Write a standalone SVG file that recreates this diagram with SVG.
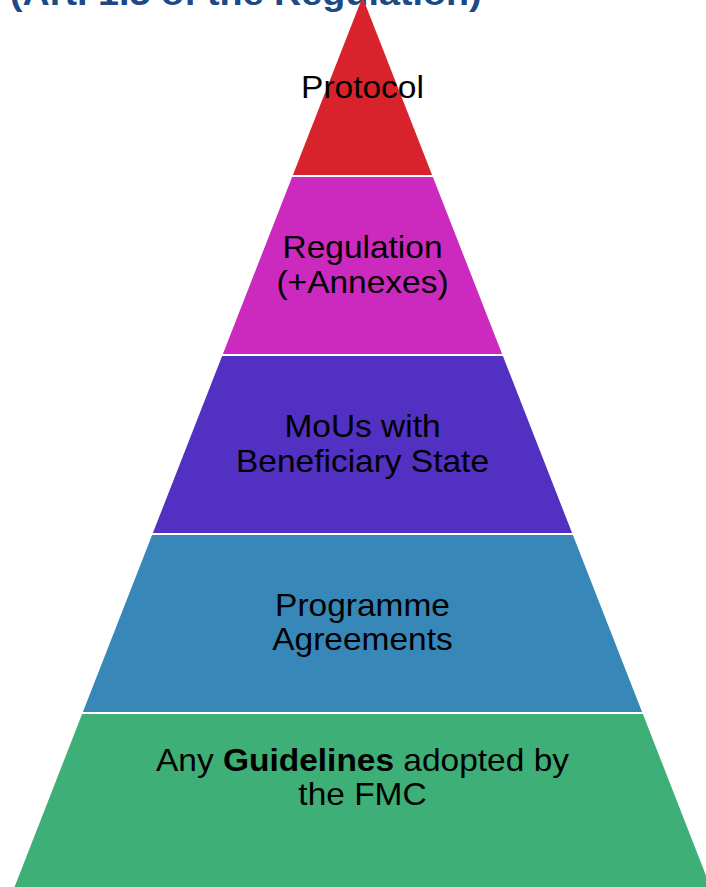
<svg xmlns="http://www.w3.org/2000/svg" width="706" height="887" viewBox="0 0 706 887">
<style>
.lbl{font-family:"Liberation Sans",Arial,sans-serif;font-size:31px;fill:#000;text-anchor:middle}
.title{font-family:"Liberation Sans",Arial,sans-serif;font-size:34px;font-weight:bold;fill:#1B4A87}
</style>
<rect width="706" height="887" fill="#fff"/>
<text class="title" transform="translate(10,5) scale(1.11,1)">(Art. 1.5 of the Regulation)</text>
<g id="protocol">
<polygon points="362.5,-3 432.1,175 292.9,175" fill="#D8232C"/>
<text class="lbl" transform="translate(362.5,98) scale(1.08,1)">Protocol</text>
</g>
<g id="regulation">
<polygon points="292.1,177 432.9,177 502.1,354 222.9,354" fill="#CC29BE"/>
<text class="lbl" transform="translate(362.5,258) scale(1.08,1)">Regulation</text>
<text class="lbl" transform="translate(362.5,293) scale(1.08,1)">(+Annexes)</text>
</g>
<g id="mous">
<polygon points="222.1,356 502.9,356 572.1,533 152.9,533" fill="#5230C1"/>
<text class="lbl" transform="translate(362.5,437) scale(1.08,1)">MoUs with</text>
<text class="lbl" transform="translate(362.5,472) scale(1.08,1)">Beneficiary State</text>
</g>
<g id="programme">
<polygon points="152.1,535 572.9,535 642.1,712 82.9,712" fill="#3788B9"/>
<text class="lbl" transform="translate(362.5,616) scale(1.08,1)">Programme</text>
<text class="lbl" transform="translate(362.5,650) scale(1.08,1)">Agreements</text>
</g>
<g id="guidelines">
<polygon points="82.1,714 642.9,714 712.4,892 12.6,892" fill="#3EAF77"/>
<text class="lbl" transform="translate(362.5,771) scale(1.08,1)">Any <tspan font-weight="bold">Guidelines</tspan> adopted by</text>
<text class="lbl" transform="translate(362.5,805) scale(1.08,1)">the FMC</text>
</g>
<g id="connectors"/>
</svg>
